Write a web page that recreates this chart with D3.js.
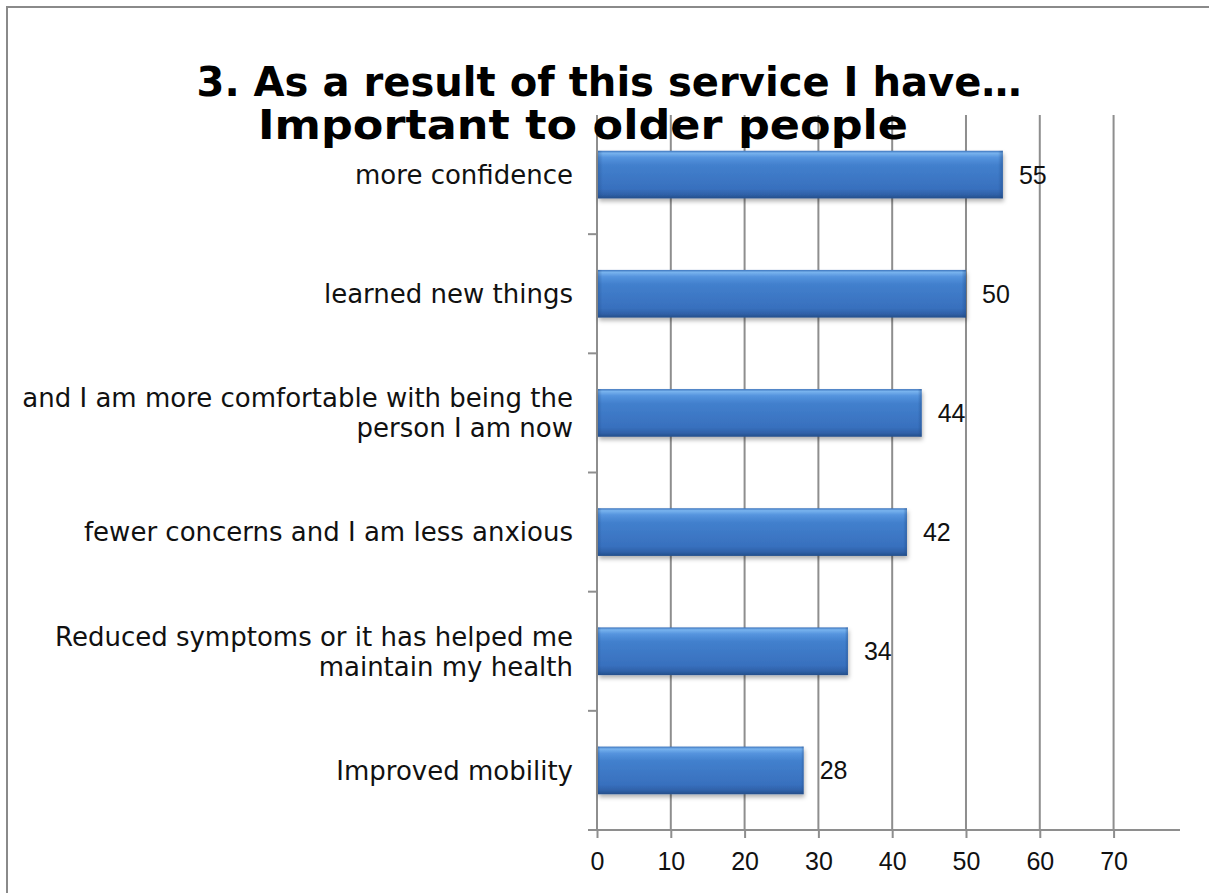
<!DOCTYPE html>
<html>
<head>
<meta charset="utf-8">
<script src="https://cdn.jsdelivr.net/npm/d3@7"></script>
<style>
  html, body { margin: 0; padding: 0; background: #fff; }
  svg { display: block; }
</style>
</head>
<body>
<svg id="chart" width="1209" height="893"></svg>
<script>
// Survey results: "As a result of this service I have…"
const titleLines = ["3. As a result of this service I have\u2026", "Important to older people"];
const categories = [
  ["more confidence"],
  ["learned new things"],
  ["and I am more comfortable with being the", "person I am now"],
  ["fewer concerns and I am less anxious"],
  ["Reduced symptoms or it has helped me", "maintain my health"],
  ["Improved mobility"]
];
const values = [55, 50, 44, 42, 34, 28];
const tickValues = [0, 10, 20, 30, 40, 50, 60, 70];

const W = 1209, H = 893;
const plot = { left: 597, right: 1180, top: 115, bottom: 830 };
const labelFont = "'DejaVu Sans', sans-serif";
const numFont = "'Liberation Sans', Arial, sans-serif";
const gridColor = "#8e8e8e";

const svg = d3.select("#chart");
const defs = svg.append("defs");

// Bar fill: glossy blue with a light top edge and dark lower edge
const grad = defs.append("linearGradient").attr("id", "barFill")
  .attr("x1", 0).attr("y1", 0).attr("x2", 0).attr("y2", 1);
[[0, "#3a72bb"], [0.05, "#78b3ee"], [0.14, "#5594de"], [0.3, "#4280cd"],
 [0.8, "#3870be"], [0.92, "#2f61a8"], [1, "#244e8a"]]
  .forEach(([o, c]) => grad.append("stop").attr("offset", o).attr("stop-color", c));

const edge = defs.append("linearGradient").attr("id", "barEdge")
  .attr("x1", 0).attr("y1", 0).attr("x2", 1).attr("y2", 0);
[[0, "#1f4a86", 0.35], [0.012, "#1f4a86", 0], [0.988, "#1f4a86", 0], [1, "#1f4a86", 0.45]]
  .forEach(([o, c, a]) => edge.append("stop").attr("offset", o).attr("stop-color", c).attr("stop-opacity", a));

const shadow = defs.append("filter").attr("id", "barShadow")
  .attr("x", "-5%").attr("y", "-20%").attr("width", "110%").attr("height", "160%");
shadow.append("feDropShadow").attr("dx", 1).attr("dy", 3).attr("stdDeviation", 2)
  .attr("flood-color", "#000").attr("flood-opacity", 0.3);

// Outer frame
svg.append("rect").attr("x", 7).attr("y", 7).attr("width", W + 10).attr("height", H + 10)
  .attr("fill", "none").attr("stroke", "#8a8a8a").attr("stroke-width", 2);

// Scales
const x = d3.scaleLinear().domain([0, 79]).range([plot.left, plot.right]);
const y = d3.scaleBand().domain(d3.range(categories.length))
  .range([plot.top, plot.bottom]).paddingInner(0.6).paddingOuter(0.3);

// Vertical gridlines
svg.append("g").selectAll("line").data(tickValues.slice(1)).join("line")
  .attr("x1", d => x(d)).attr("x2", d => x(d))
  .attr("y1", plot.top).attr("y2", plot.bottom)
  .attr("stroke", gridColor).attr("stroke-width", 2);

// X axis
const xAxis = svg.append("g").attr("transform", `translate(0,${plot.bottom})`)
  .call(d3.axisBottom(x).tickValues(tickValues).tickSize(8).tickPadding(14).tickFormat(d3.format("d")));
xAxis.select(".domain").remove();
xAxis.selectAll(".tick line").attr("stroke", gridColor).attr("stroke-width", 2);
xAxis.selectAll(".tick text").attr("font-family", numFont).attr("font-size", 25).attr("fill", "#111");
svg.append("line").attr("x1", plot.left - 9).attr("x2", plot.right)
  .attr("y1", plot.bottom).attr("y2", plot.bottom)
  .attr("stroke", gridColor).attr("stroke-width", 2);

// Y axis with category boundary ticks
svg.append("line").attr("x1", plot.left).attr("x2", plot.left)
  .attr("y1", plot.top).attr("y2", plot.bottom)
  .attr("stroke", gridColor).attr("stroke-width", 2);
svg.append("g").selectAll("line").data(d3.range(1, categories.length)).join("line")
  .attr("x1", plot.left - 9).attr("x2", plot.left)
  .attr("y1", i => y(i) - y.step() * y.paddingInner() / 2)
  .attr("y2", i => y(i) - y.step() * y.paddingInner() / 2)
  .attr("stroke", gridColor).attr("stroke-width", 2);

// Bars
const bars = svg.append("g").selectAll("g").data(values).join("g");
bars.append("rect")
  .attr("x", x(0) + 1).attr("y", (d, i) => y(i))
  .attr("width", d => x(d) - x(0) - 1).attr("height", y.bandwidth())
  .attr("fill", "url(#barFill)").attr("filter", "url(#barShadow)");
bars.append("rect")
  .attr("x", x(0) + 1).attr("y", (d, i) => y(i))
  .attr("width", d => x(d) - x(0) - 1).attr("height", y.bandwidth())
  .attr("fill", "url(#barEdge)");

// Value labels
svg.append("g").selectAll("text").data(values).join("text")
  .attr("x", d => x(d) + 16).attr("y", (d, i) => y(i) + y.bandwidth() / 2)
  .attr("dy", "0.36em")
  .attr("font-family", numFont).attr("font-size", 25).attr("fill", "#111")
  .text(d => d);

// Category labels, right aligned to the left of the axis
const lineGap = 30;
const catG = svg.append("g");
categories.forEach((lines, i) => {
  const cy = y(i) + y.bandwidth() / 2;
  lines.forEach((t, j) => {
    catG.append("text")
      .attr("x", 573)
      .attr("y", cy + (j - (lines.length - 1) / 2) * lineGap)
      .attr("dy", "0.36em")
      .attr("text-anchor", "end")
      .attr("font-family", labelFont).attr("font-size", 26).attr("fill", "#111")
      .text(t);
  });
});

// Title: two centred lines, each fitted to its width
const titleBoxes = [{ cx: 609, y: 96, w: 825 }, { cx: 583, y: 139, w: 650 }];
titleLines.forEach((t, i) => {
  svg.append("text")
    .attr("x", titleBoxes[i].cx).attr("y", titleBoxes[i].y)
    .attr("text-anchor", "middle")
    .attr("font-family", labelFont).attr("font-weight", "bold")
    .attr("font-size", 40).attr("fill", "#000")
    .attr("textLength", titleBoxes[i].w).attr("lengthAdjust", "spacingAndGlyphs")
    .text(t);
});
</script>
</body>
</html>
